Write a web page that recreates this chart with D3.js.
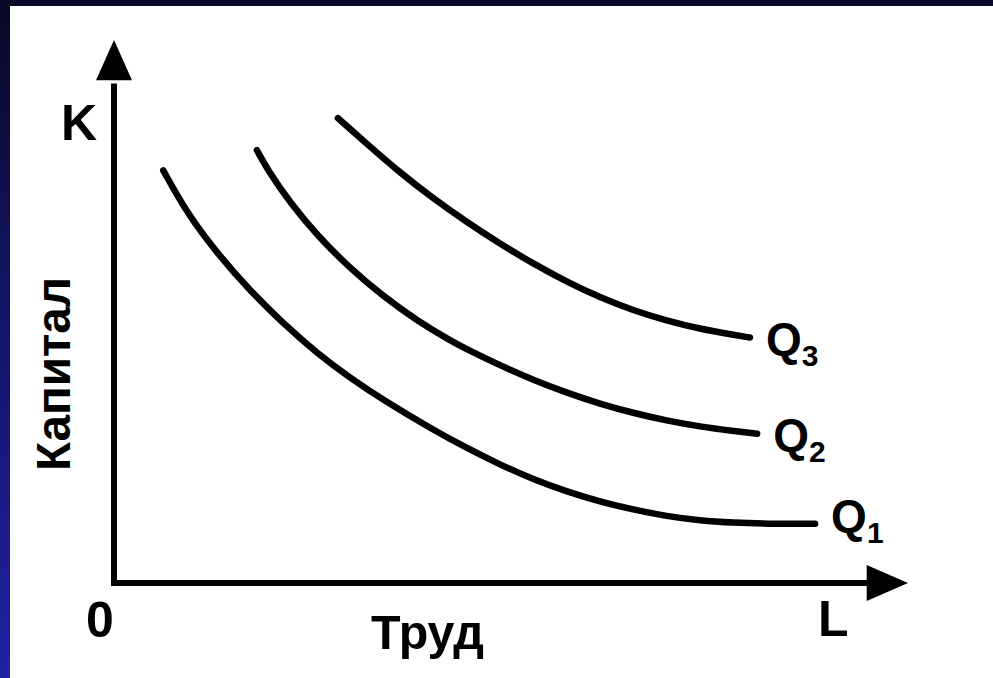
<!DOCTYPE html>
<html>
<head>
<meta charset="utf-8">
<script src="https://cdn.jsdelivr.net/npm/d3@7"></script>
<style>
  body { margin: 0; background: #0a0a30; }
  text { font-family: "Liberation Sans", Arial, sans-serif; font-weight: bold; fill: #000; }
</style>
</head>
<body>
<div id="chart"></div>
<script>
// Isoquant curves (L and K on a 0..100 scale)
const q1L = [6.2, 9.2, 13.0, 17.1, 21.3, 25.6, 29.7, 33.9, 40.2, 44.5, 48.6, 52.8, 57.1, 61.2, 65.4, 69.6, 73.8, 78.0, 82.2, 88.3];
const q1K = [76.0, 68.1, 60.7, 53.9, 47.8, 42.3, 37.8, 33.7, 28.2, 24.8, 21.8, 19.1, 16.8, 15.0, 13.5, 12.3, 11.5, 11.1, 10.9, 10.9];
const q2L = [18.0, 19.3, 22.2, 25.6, 29.7, 33.9, 38.2, 42.3, 44.5, 48.6, 52.8, 57.1, 61.2, 65.4, 69.6, 73.8, 78.0, 81.0];
const q2K = [79.7, 76.2, 70.0, 64.0, 58.0, 52.8, 48.3, 44.7, 43.0, 40.1, 37.4, 35.0, 33.0, 31.3, 29.9, 28.8, 28.0, 27.5];
const q3L = [28.2, 31.9, 36.0, 40.2, 44.5, 48.6, 52.8, 57.1, 61.2, 65.4, 69.6, 73.8, 78.0, 80.1];
const q3K = [85.6, 80.8, 75.6, 70.8, 66.4, 62.5, 58.8, 55.4, 52.6, 50.2, 48.3, 46.8, 45.7, 45.2];

const curveNames = ["Q", "Q", "Q"];
const curveSubs = ["1", "2", "3"];

const xTitle = "Труд";
const yTitle = "Капитал";
const xEnd = "L";
const yEnd = "K";
const originLabel = "0";

const width = 993;
const height = 678;

const svg = d3.select("#chart")
  .append("svg")
  .attr("width", width)
  .attr("height", height);

// Slide background: dark navy getting bluer towards the bottom
const grad = svg.append("defs").append("linearGradient")
  .attr("id", "bg")
  .attr("x1", 0).attr("y1", 0).attr("x2", 0).attr("y2", 1);
grad.append("stop").attr("offset", "0%").attr("stop-color", "#080826");
grad.append("stop").attr("offset", "50%").attr("stop-color", "#15156c");
grad.append("stop").attr("offset", "100%").attr("stop-color", "#2020a2");

svg.append("rect")
  .attr("width", width)
  .attr("height", height)
  .attr("fill", "url(#bg)");

// White picture panel
svg.append("rect")
  .attr("x", 10)
  .attr("y", 6)
  .attr("width", width - 10)
  .attr("height", height - 6)
  .attr("fill", "#fff");

// Scales: origin at the corner of the axes, tips of the arrows at 100
const x = d3.scaleLinear().domain([0, 100]).range([114, 908]);
const y = d3.scaleLinear().domain([0, 100]).range([583, 40]);

const axisG = svg.append("g");

// Axis lines
axisG.append("line")
  .attr("x1", x(0)).attr("y1", y(0) + 3)
  .attr("x2", x(0)).attr("y2", y(92))
  .attr("stroke", "#000").attr("stroke-width", 6);

axisG.append("line")
  .attr("x1", x(0) - 3).attr("y1", y(0))
  .attr("x2", x(95)).attr("y2", y(0))
  .attr("stroke", "#000").attr("stroke-width", 6);

// Arrow heads
const ah = 18;
axisG.append("path")
  .attr("d", `M${x(0)},${y(100)} L${x(0) + ah},${y(92.6)} L${x(0) - ah},${y(92.6)} Z`)
  .attr("fill", "#000");

axisG.append("path")
  .attr("d", `M${x(100)},${y(0)} L${x(94.8)},${y(0) - ah} L${x(94.8)},${y(0) + ah} Z`)
  .attr("fill", "#000");

// Axis labels
svg.append("text")
  .attr("x", 61).attr("y", 140)
  .attr("font-size", 50)
  .text(yEnd);

svg.append("text")
  .attr("x", 86).attr("y", 637)
  .attr("font-size", 50)
  .text(originLabel);

svg.append("text")
  .attr("x", 818).attr("y", 636)
  .attr("font-size", 50)
  .text(xEnd);

svg.append("text")
  .attr("x", 371).attr("y", 649)
  .attr("font-size", 48)
  .attr("textLength", 113)
  .attr("lengthAdjust", "spacingAndGlyphs")
  .text(xTitle);

svg.append("text")
  .attr("transform", "translate(70,471) rotate(-90)")
  .attr("font-size", 48)
  .attr("textLength", 194)
  .attr("lengthAdjust", "spacingAndGlyphs")
  .text(yTitle);

// Isoquants
const curves = [
  { L: q1L, K: q1K },
  { L: q2L, K: q2K },
  { L: q3L, K: q3K }
];

const line = d3.line()
  .x(d => x(d[0]))
  .y(d => y(d[1]))
  .curve(d3.curveBasis);

const labelDy = [8, 17, 17];

curves.forEach(function (c, i) {
  const pts = c.L.map((v, j) => [v, c.K[j]]);

  svg.append("path")
    .attr("d", line(pts))
    .attr("fill", "none")
    .attr("stroke", "#000")
    .attr("stroke-width", 6.5)
    .attr("stroke-linecap", "round");

  const last = pts[pts.length - 1];
  const t = svg.append("text")
    .attr("x", x(last[0]) + 16)
    .attr("y", y(last[1]) + labelDy[i])
    .attr("font-size", 46);
  t.append("tspan").text(curveNames[i]);
  t.append("tspan")
    .attr("dy", 11)
    .attr("font-size", 30)
    .text(curveSubs[i]);
});
</script>
</body>
</html>
